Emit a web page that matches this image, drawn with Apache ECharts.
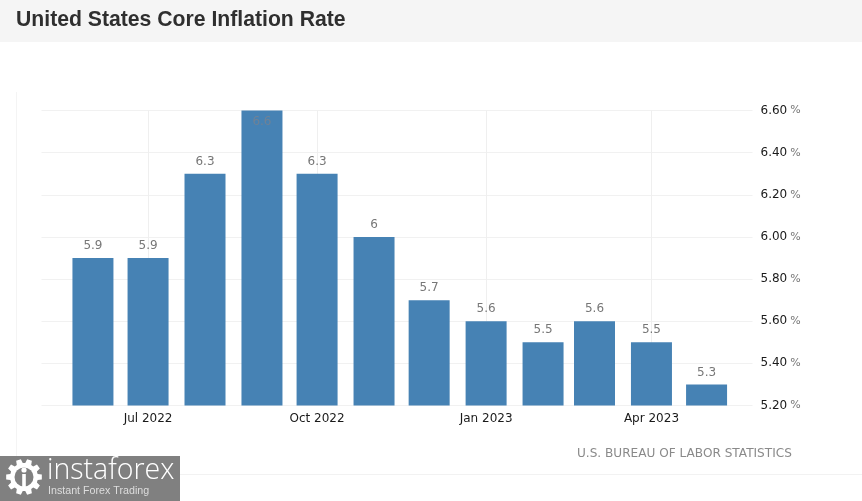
<!DOCTYPE html>
<html><head><meta charset="utf-8">
<style>html,body{margin:0;padding:0;background:#fff}#c{width:862px;height:501px}</style>
<script src="https://cdn.jsdelivr.net/npm/echarts@6/dist/echarts.min.js"></script>
</head><body><div id="c"></div>
<script>
const months = ['2022-06-01','2022-07-01','2022-08-01','2022-09-01','2022-10-01','2022-11-01','2022-12-01','2023-01-01','2023-02-01','2023-03-01','2023-04-01','2023-05-01'];
const values = [5.9,5.9,6.3,6.6,6.3,6,5.7,5.6,5.5,5.6,5.5,5.3];
const tickDates = ['2022-07-01','2022-10-01','2023-01-01','2023-04-01'];
const tickLabels = ['Jul 2022','Oct 2022','Jan 2023','Apr 2023'];
const titleText = 'United States Core Inflation Rate';
const sourceText = 'U.S. BUREAU OF LABOR STATISTICS';
const axisStart = '2022-05-04', axisEnd = '2023-05-26';
const yMin = 5.2, yMax = 6.6, yStep = 0.2;

const ts = s => Date.parse(s + 'T00:00:00Z');
const tickTs = tickDates.map(ts);
const font = '"DejaVu Sans"';
const chart = echarts.init(document.getElementById('c'), null, {renderer:'canvas'});

function gearShape(cx, cy, rOut, rIn, teeth){
  const pts = [];
  for (let i = 0; i < teeth; i++){
    const a = i / teeth * Math.PI * 2, w = Math.PI / teeth * 0.55;
    pts.push([cx + rIn*Math.cos(a-w*1.3), cy + rIn*Math.sin(a-w*1.3)]);
    pts.push([cx + rOut*Math.cos(a-w*0.8), cy + rOut*Math.sin(a-w*0.8)]);
    pts.push([cx + rOut*Math.cos(a+w*0.8), cy + rOut*Math.sin(a+w*0.8)]);
    pts.push([cx + rIn*Math.cos(a+w*1.3), cy + rIn*Math.sin(a+w*1.3)]);
  }
  return pts;
}

chart.setOption({
  animation:false,
  backgroundColor:'#ffffff',
  grid:{left:41.5,right:109.5,top:110.5,bottom:95.5,containLabel:false},
  graphic:[
    {type:'rect',z:0,silent:true,shape:{x:0,y:0,width:862,height:42},style:{fill:'#f5f5f5'}},
    {type:'text',z:5,left:16,top:10,style:{text:titleText,font:'bold 21.2px "Liberation Sans"',fill:'#2f2f2f'}},
    {type:'line',z:0,shape:{x1:16.5,y1:92,x2:16.5,y2:456},style:{stroke:'#f4f4f4',lineWidth:1}},
    {type:'line',z:0,shape:{x1:180,y1:474.5,x2:862,y2:474.5},style:{stroke:'#f2f2f2',lineWidth:1}},
    {type:'text',z:5,left:577,top:448,style:{text:sourceText,font:'12.1px '+font,fill:'#8a8a8a'}},
    {type:'rect',z:6,shape:{x:0,y:456,width:180,height:45},style:{fill:'#808080'}},
    {type:'polygon',z:7,shape:{points:gearShape(24,477,18,14,10)},style:{fill:'#ffffff'}},
    {type:'circle',z:8,shape:{cx:24,cy:477,r:9.5},style:{fill:'#808080'}},
    {type:'circle',z:9,shape:{cx:24,cy:470,r:2.6},style:{fill:'#ffffff'}},
    {type:'rect',z:9,shape:{x:22.2,y:474,width:3.6,height:13},style:{fill:'#ffffff'}},
    {type:'text',z:7,left:47,top:456,style:{text:'instaforex',font:'300 28.5px "Open Sans"',fill:'#ffffff'}},
    {type:'text',z:7,left:48,top:486,style:{text:'Instant Forex Trading',font:'10.7px "Liberation Sans"',fill:'#dddddd'}}
  ],
  xAxis:{
    type:'value',
    min:ts(axisStart),max:ts(axisEnd),
    axisLine:{show:false},
    axisTick:{show:false,customValues:tickTs},
    splitLine:{show:true,lineStyle:{color:'#efefef',width:1}},
    axisLabel:{
      customValues:tickTs,
      margin:7,
      color:'#1a1a1a',
      fontFamily:font,fontSize:12,
      hideOverlap:false,
      showMinLabel:true,showMaxLabel:true,
      formatter:v=>tickLabels[tickTs.indexOf(v)] ?? ''
    }
  },
  yAxis:{
    type:'value',position:'right',min:yMin,max:yMax,interval:yStep,
    axisLine:{show:false},axisTick:{show:false},
    splitLine:{show:true,lineStyle:{color:'#f1f1f1',width:1}},
    axisLabel:{
      margin:8,
      align:'left',
      formatter:v=>`{n|${v.toFixed(2)}}{p|%}`,
      rich:{
        n:{color:'#1a1a1a',fontFamily:font,fontSize:12},
        p:{color:'#777777',fontFamily:font,fontSize:11,padding:[0,0,0,3]}
      }
    }
  },
  series:[{
    type:'bar',
    barWidth:41,
    itemStyle:{color:'#4682b4'},
    label:{show:true,position:'top',distance:6,color:'#777777',fontFamily:font,fontSize:12,formatter:p=>String(p.value[1])},
    data:months.map((m,i)=>{
      const d={value:[ts(m),values[i]]};
      if(values[i]>=yMax) d.label={position:'insideTop',distance:5,color:'#6f8296'};
      return d;
    })
  }]
});
</script></body></html>
